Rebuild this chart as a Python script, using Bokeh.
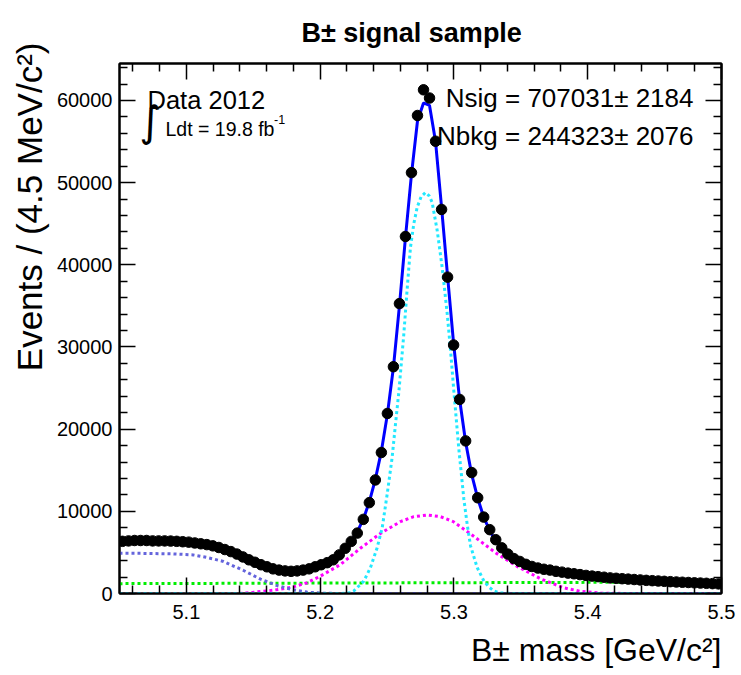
import numpy as np
from bokeh.plotting import figure
from bokeh.models import Range1d, LinearAxis, FixedTicker, Label, Title, CustomJSTickFormatter
from bokeh.embed import file_html
from bokeh.resources import INLINE

# ---------------- data ----------------
mass_lo = 5.05
mass_hi = 5.50
bin_width = 0.0045  # 4.5 MeV bins

events = [
    6350, 6400, 6450, 6450, 6450, 6400, 6400, 6400, 6380, 6350,
    6300, 6250, 6150, 6050, 5950, 5800, 5600, 5350, 5100, 4800,
    4450, 4100, 3800, 3500, 3250, 3000, 2850, 2750, 2700, 2750,
    2850, 3000, 3250, 3500, 3750, 4100, 4700, 5500, 6340, 7350,
    9020, 11060, 13820, 17160, 21910, 27600, 35280, 43450, 51220, 58170,
    61300, 60300, 55040, 46740, 38500, 30240, 23620, 18570, 14720, 11650,
    9300, 7770, 6550, 5560, 4800, 4250, 3900, 3550, 3290, 3100,
    2950, 2850, 2700, 2600, 2480, 2400, 2300, 2200, 2120, 2050,
    1980, 1900, 1850, 1800, 1750, 1700, 1650, 1600, 1560, 1520,
    1480, 1440, 1400, 1370, 1340, 1300, 1270, 1240, 1200, 1170,
]

fit_total = [
    6350, 6380, 6400, 6410, 6410, 6400, 6390, 6370, 6350, 6320,
    6280, 6230, 6150, 6050, 5930, 5780, 5590, 5370, 5110, 4820,
    4500, 4170, 3840, 3530, 3260, 3040, 2880, 2780, 2740, 2760,
    2850, 3010, 3240, 3520, 3800, 4180, 4750, 5520, 6400, 7500,
    9050, 11150, 13900, 17300, 21800, 27500, 35000, 43300, 51000, 57500,
    59700, 59400, 55000, 47000, 38600, 30400, 23600, 18400, 14500, 11600,
    9300, 7650, 6400, 5500, 4800, 4250, 3820, 3480, 3220, 3020,
    2870, 2740, 2630, 2530, 2440, 2360, 2280, 2200, 2130, 2060,
    1990, 1930, 1870, 1810, 1760, 1710, 1660, 1610, 1570, 1530,
    1490, 1450, 1410, 1380, 1350, 1320, 1290, 1260, 1230, 1200,
]

# narrow signal component (cyan)
sig_core_x = [5.05, 5.215, 5.2227, 5.2251, 5.2326, 5.2376, 5.2426, 5.2464, 5.2501,
              5.2538, 5.2563, 5.2588, 5.2625, 5.2650, 5.2675, 5.2700, 5.2725, 5.2755,
              5.2787, 5.2815, 5.2837, 5.2875, 5.2912, 5.2950, 5.2975, 5.3000, 5.3037,
              5.3074, 5.3100, 5.3124, 5.3174, 5.3224, 5.3260, 5.3299, 5.3340, 5.345, 5.50]
sig_core_y = [0, 0, 100, 300, 1500, 3150, 5580, 8020, 12090,
              16550, 20610, 24500, 31500, 37000, 42130, 45000, 47000, 48300,
              48800, 48400, 47600, 44160, 39690, 34010, 29500, 24500, 17500,
              11500, 8300, 5800, 3150, 1520, 800, 300, 80, 0, 0]

# wide signal component (magenta)
sig_wide_x = [5.05, 5.14, 5.15, 5.165, 5.18, 5.19, 5.20, 5.215, 5.23, 5.245, 5.26,
              5.27, 5.28, 5.29, 5.2995, 5.3145, 5.3325, 5.3473, 5.3646, 5.3818,
              5.395, 5.41, 5.43, 5.50]
sig_wide_y = [0, 0, 150, 400, 800, 1300, 2100, 3500, 5500, 7300, 8750,
              9350, 9550, 9350, 8750, 7000, 4800, 3300, 1800, 700,
              250, 50, 0, 0]

# partially reconstructed background (slate blue)
bkg_part_x = [5.05, 5.07, 5.09, 5.105, 5.115, 5.1277, 5.1427, 5.1554, 5.168,
              5.18, 5.19, 5.20, 5.215, 5.50]
bkg_part_y = [4900, 4880, 4820, 4700, 4400, 3900, 2800, 1750, 950,
              450, 170, 50, 0, 0]

# combinatorial background (green)
bkg_comb_x = [5.05, 5.50]
bkg_comb_y = [1200, 1400]

x_ticks = [5.1, 5.2, 5.3, 5.4, 5.5]
x_tick_labels = ["5.1", "5.2", "5.3", "5.4", "5.5"]
y_ticks = [0, 10000, 20000, 30000, 40000, 50000, 60000]
y_tick_labels = ["0", "10000", "20000", "30000", "40000", "50000", "60000"]

nsig, nsig_err = 707031, 2184
nbkg, nbkg_err = 244323, 2076

title_text = "B\u00b1 signal sample"
x_title = "B\u00b1 mass [GeV/c\u00b2]"
y_title = "Events / (4.5 MeV/c\u00b2)"

# ---------------- layout ----------------
W, H = 741, 675
FL, FR, FT, FB = 119, 721, 63, 593
y_lo, y_hi = 0, 64500

def dx(px):
    return mass_lo + (px - FL) * (mass_hi - mass_lo) / (FR - FL)

def dy(py):
    return y_lo + (FB - py) * (y_hi - y_lo) / (FB - FT)

FONT = "Liberation Sans"

p = figure(width=W, height=H, output_backend="svg", toolbar_location=None,
           x_range=Range1d(mass_lo, mass_hi), y_range=Range1d(y_lo, y_hi),
           min_border_left=FL, min_border_right=W - FR,
           min_border_top=FT, min_border_bottom=H - FB,
           x_axis_location=None, y_axis_location=None, title_location=None)
p.xgrid.visible = False
p.ygrid.visible = False
p.outline_line_color = "black"
p.outline_line_width = 2
p.background_fill_color = "white"
p.border_fill_color = "white"

x_minor = [round(v, 3) for v in np.arange(5.06, 5.5, 0.02) if all(abs(v - t) > 1e-6 for t in x_ticks)]
y_minor = [v for v in range(2000, 64500, 2000) if v % 10000 != 0]

def style_axis(ax, labels=True):
    ax.axis_line_color = "black"
    ax.axis_line_width = 2
    ax.major_tick_in = 16
    ax.major_tick_out = 0
    ax.minor_tick_in = 8
    ax.minor_tick_out = 0
    ax.major_tick_line_width = 1.5
    ax.minor_tick_line_width = 1.5
    ax.major_tick_line_color = "black"
    ax.minor_tick_line_color = "black"
    ax.major_label_text_font = FONT
    ax.major_label_text_font_size = "20px"
    ax.major_label_text_color = "black"
    if not labels:
        ax.formatter = CustomJSTickFormatter(code="return ''")
        ax.major_label_text_font_size = "0px"
        ax.major_label_standoff = 0

xb = LinearAxis(ticker=FixedTicker(ticks=x_ticks, minor_ticks=x_minor),
                major_label_overrides={t: l for t, l in zip(x_ticks, x_tick_labels)})
style_axis(xb)
xb.major_label_standoff = 11
p.add_layout(xb, "below")

xt = LinearAxis(ticker=FixedTicker(ticks=x_ticks, minor_ticks=x_minor))
style_axis(xt, labels=False)
p.add_layout(xt, "above")

yl = LinearAxis(ticker=FixedTicker(ticks=y_ticks, minor_ticks=y_minor),
                major_label_overrides={t: l for t, l in zip(y_ticks, y_tick_labels)})
style_axis(yl)
yl.major_label_standoff = 7
p.add_layout(yl, "left")

yr = LinearAxis(ticker=FixedTicker(ticks=y_ticks, minor_ticks=y_minor))
style_axis(yr, labels=False)
p.add_layout(yr, "right")

# titles (outside the frame)
p.add_layout(Title(text=title_text, align="left", offset=182, standoff=28,
                   vertical_align="top",
                   text_font=FONT, text_font_size="27px", text_font_style="bold",
                   text_color="black"), "above")
p.add_layout(Title(text=x_title, align="right", offset=0, standoff=16,
                   text_font=FONT, text_font_size="32px", text_font_style="normal",
                   text_color="black"), "below")
p.add_layout(Title(text=y_title, align="right", offset=-21, standoff=10,
                   text_font=FONT, text_font_size="35px", text_font_style="normal",
                   text_color="black"), "left")

# ---------------- curves ----------------
p.line(bkg_comb_x, bkg_comb_y, line_color="#00ee00", line_width=3, line_dash="3 3")
p.line(sig_wide_x, sig_wide_y, line_color="#ff00ff", line_width=3, line_dash="3 3")
p.line(bkg_part_x, bkg_part_y, line_color="#6464dc", line_width=3, line_dash="3 3")
p.line(sig_core_x, sig_core_y, line_color="#22e8ff", line_width=3, line_dash="3 3")

centers = [mass_lo + bin_width * (i + 0.5) for i in range(len(events))]
p.line(centers, fit_total, line_color="#0000ff", line_width=3)
p.scatter(centers, events, size=10.5, fill_color="black", line_color="black")

# ---------------- texts inside the frame ----------------
def lab(text, px, py, size, align="left", font=FONT, baseline="alphabetic"):
    p.add_layout(Label(x=dx(px), y=dy(py), text=text, text_font=font,
                       text_font_size=f"{size}px", text_align=align,
                       text_baseline=baseline, text_color="black"))

lab("Data 2012", 147, 99.5, 25.5)
lab("\u222b", 150, 121, 42, align="center", font="DejaVu Sans", baseline="middle")
lab("Ldt = 19.8 fb", 165, 128.5, 19.5)
lab("-1", 273.5, 119, 12.5)

lab(f"Nsig = {nsig}\u00b1 {nsig_err}", 693, 97, 26, align="right")
lab(f"Nbkg = {nbkg}\u00b1 {nbkg_err}", 693, 135, 26, align="right")

open("out.html", "w").write(file_html(p, INLINE))
